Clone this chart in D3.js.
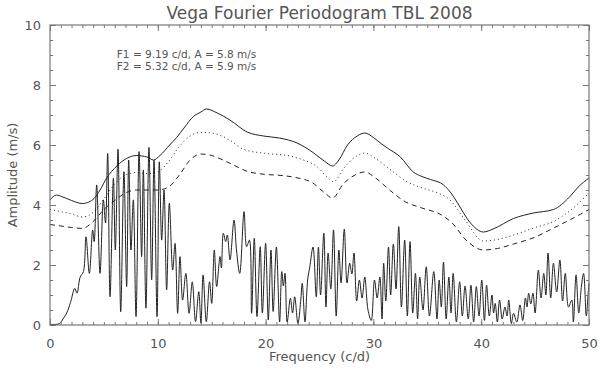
<!DOCTYPE html>
<html>
<head>
<script src="https://cdnjs.cloudflare.com/ajax/libs/d3/7.8.5/d3.min.js"></script>
<style>
  body { margin: 0; background: #fff; }
  text { font-family: "DejaVu Sans", sans-serif; fill: #555; }
</style>
</head>
<body>
<div id="chart"></div>
<script>
var W = 600, H = 370;
var margin = { top: 25, right: 11, bottom: 45, left: 50 };

var xTicks = [0, 10, 20, 30, 40, 50];
var yTicks = [0, 2, 4, 6, 8, 10];
var notes = ["F1 = 9.19 c/d, A = 5.8 m/s", "F2 = 5.32 c/d, A = 5.9 m/s"];

// amplitude spectrum (freq c/d, amp m/s)
var specFreq = [0,0.5,0.9,1.2,1.55,1.9,2.3,2.5,2.8,3.1,3.34,3.65,3.96,4.1,4.33,4.64,4.95,5.15,5.35,5.57,
  5.88,6.06,6.31,6.56,6.86,7.11,7.3,7.51,7.73,7.98,8.26,8.5,8.66,8.9,9.18,9.43,9.65,9.93,10.14,10.36,
  10.58,10.82,11.07,11.38,11.6,11.84,12.06,12.3,12.6,12.9,13.2,13.5,13.8,14.0,14.2,14.5,14.8,15.0,15.24,15.46,
  15.77,15.9,16.08,16.3,16.45,16.7,17.07,17.3,17.6,18.0,18.24,18.5,18.7,18.95,19.2,19.5,19.7,20.0,20.25,20.5,
  20.7,21.0,21.3,21.5,21.65,21.8,22.0,22.3,22.5,22.7,23.0,23.25,23.4,23.65,23.9,24.1,24.4,24.7,24.9,25.1,
  25.4,25.6,25.8,26.05,26.3,26.55,26.8,27.0,27.3,27.55,27.8,28.0,28.2,28.45,28.7,28.95,29.2,29.5,29.8,30.1,
  30.35,30.6,30.8,30.95,31.15,31.4,31.6,31.85,32.1,32.35,32.6,32.9,33.15,33.4,33.65,33.9,34.1,34.3,34.6,34.9,
  35.2,35.6,35.9,36.1,36.3,36.5,36.75,37.0,37.2,37.4,37.7,38.0,38.25,38.5,38.8,39.05,39.3,39.55,39.8,40.05,
  40.3,40.5,40.75,41.0,41.15,41.3,41.5,41.7,41.95,42.2,42.4,42.55,42.8,43.0,43.3,43.6,43.85,44.1,44.25,44.4,
  44.6,44.8,45.0,45.3,45.55,45.8,46.0,46.2,46.45,46.7,47.0,47.3,47.55,47.8,48.1,48.4,48.55,48.8,49.05,49.3,
  49.5,49.75,49.9,50];
var specAmp = [0.02,0.02,0.05,0.2,0.4,0.75,1.22,1.06,1.6,1.78,2.94,1.72,3.17,2.78,4.67,1.72,4.17,3.4,5.72,0.94,
  4.89,2.5,5.86,0.44,5.11,1.28,5.5,2.5,4.17,0.28,5.78,2.28,5.17,0.56,5.92,1.5,5.5,0.28,5.44,2.83,
  4.5,1.17,4.06,1.83,2.72,0.39,2.28,0.83,1.72,0.39,1.44,0.11,1.11,0.06,1.67,0.11,1.44,0.72,2.5,1.28,
  2.28,1.9,3.06,2.78,3.0,2.17,3.5,2.5,1.72,3.78,2.61,2.83,0.39,2.89,0.28,2.61,0.4,2.72,0.17,2.5,
  0.45,2.6,0.1,1.78,1.3,1.72,0.1,0.89,0.4,0.94,0.05,0.78,1.39,0.1,1.5,1.94,2.6,0.94,2.6,1.0,
  3.06,0.6,2.4,1.2,3.17,0.3,2.5,1.4,3.2,1.4,2.06,1.7,2.4,0.8,1.5,0.9,1.6,0.5,0.15,1.5,
  0.9,1.6,0.2,2.06,0.8,2.6,1.0,2.7,1.2,3.28,0.6,2.83,0.3,2.78,0.4,1.72,0.2,1.6,0.5,1.94,
  0.3,1.78,0.2,1.5,0.6,2.1,0.2,1.6,0.4,1.72,0.1,1.44,0.3,1.3,0.2,1.33,0.1,1.28,0.3,1.5,
  0.15,1.33,0.3,1.0,0.4,0.72,0.1,0.83,0.2,0.6,0.3,0.83,0.05,0.39,0.1,0.67,0.15,0.9,0.6,1.06,
  0.7,1.06,0.4,1.83,0.9,1.72,1.0,2.4,0.9,2.06,1.1,2.17,0.8,1.72,0.6,0.83,0.1,1.67,0.4,1.3,
  1.72,0.3,0.94,1.4];

// significance levels (solid, dotted, dashed)
var solidFreq = [0,0.6,1.1,2.0,3.0,3.6,4.1,4.64,5.26,6.2,7.1,8.0,9.0,9.6,10.2,11.1,11.75,12.5,13.3,14.0,
  14.5,15.5,16.7,18.3,19.8,21.3,22.9,24.4,25.5,26.2,26.8,27.6,28.5,29.2,30.0,30.7,31.3,32.5,33.7,34.5,
  35.3,36.5,37.2,37.8,39.0,40.2,41.1,43.0,44.8,46.7,48.2,49.0,50];
var solidAmp = [4.17,4.33,4.28,4.15,4.05,4.1,4.22,4.5,4.9,5.3,5.55,5.65,5.6,5.5,5.65,6.0,6.25,6.6,6.95,7.1,
  7.2,7.07,6.83,6.43,6.3,6.23,6.07,5.75,5.45,5.3,5.5,6.0,6.3,6.4,6.25,6.05,5.9,5.6,5.1,4.95,
  4.85,4.67,4.4,4.07,3.4,3.1,3.2,3.55,3.73,3.85,4.27,4.6,4.9];

var dotFreq = [0,1,2,3,4,5,6,7,8,9,10,11,12,13,14,15,16.5,18,20,22,23.5,24.7,25.8,26.3,27.2,28.3,29.2,30.2,
  31.5,33,34.5,36,37,38.5,40.2,41.5,43,45,46.7,48.2,50];
var dotAmp = [3.85,3.78,3.7,3.6,3.75,4.2,4.7,5.0,5.08,5.05,5.1,5.45,5.95,6.3,6.42,6.4,6.2,5.85,5.72,5.65,5.5,5.3,4.9,4.77,5.2,5.6,5.73,5.55,
  5.2,4.8,4.57,4.4,4.2,3.5,2.8,2.85,3.0,3.25,3.45,3.8,4.4];

var dashFreq = [0,1,2,3,4,5,6,7,8,9,10,11,12,13,14,15,16.4,18.5,20,21.6,23,24.3,25.5,26.2,27.2,28.3,29.2,30.2,
  31.5,33,34.5,36.3,37.3,38.6,40.2,41.5,43,45,46.7,48.2,50];
var dashAmp = [3.35,3.3,3.25,3.22,3.45,3.85,4.15,4.4,4.5,4.5,4.5,4.6,5.0,5.5,5.7,5.65,5.44,5.1,5.02,4.98,4.9,4.75,4.4,4.23,4.7,5.0,5.1,4.9,
  4.5,4.1,3.9,3.67,3.4,2.83,2.5,2.55,2.7,2.93,3.23,3.5,3.85];

var width = W - margin.left - margin.right;
var height = H - margin.top - margin.bottom;

var svg = d3.select("#chart").append("svg")
  .attr("width", W).attr("height", H);

var g = svg.append("g")
  .attr("transform", "translate(" + margin.left + "," + margin.top + ")");

var x = d3.scaleLinear().domain([0, 50]).range([0, width]);
var y = d3.scaleLinear().domain([0, 10]).range([height, 0]);

function zip(a, b) {
  return a.map(function(d, i) { return [d, b[i]]; });
}

var line = d3.line()
  .x(function(d) { return x(d[0]); })
  .y(function(d) { return y(d[1]); });

g.append("path")
  .datum(zip(specFreq, specAmp))
  .attr("fill", "none")
  .attr("stroke", "#222")
  .attr("stroke-width", 1)
  .attr("d", line.curve(d3.curveCatmullRom.alpha(0.5)));

var levels = [
  { f: solidFreq, a: solidAmp, dash: null },
  { f: dotFreq, a: dotAmp, dash: "1,3" },
  { f: dashFreq, a: dashAmp, dash: "5,4" }
];
levels.forEach(function(l) {
  g.append("path")
    .datum(zip(l.f, l.a))
    .attr("fill", "none")
    .attr("stroke", "#222")
    .attr("stroke-width", 1)
    .attr("stroke-dasharray", l.dash)
    .attr("d", line.curve(d3.curveMonotoneX));
});

// axes, ticks pointing inward like the IDL frame
function styleAxis(sel) {
  sel.select(".domain").remove();
  sel.selectAll("line").attr("stroke", "#777");
  sel.selectAll("text").attr("font-size", "13px").attr("fill", "#555")
    .attr("font-family", "DejaVu Sans, sans-serif");
}

var minorX = d3.range(0, 51, 1), minorY = d3.range(0, 10.01, 0.5);

g.append("g").attr("transform", "translate(0," + height + ")")
  .call(d3.axisBottom(x).tickValues(minorX).tickSize(-3).tickFormat(""))
  .call(styleAxis);
g.append("g").attr("transform", "translate(0," + height + ")")
  .call(d3.axisBottom(x).tickValues(xTicks).tickSize(-6).tickPadding(14))
  .call(styleAxis);
g.append("g")
  .call(d3.axisTop(x).tickValues(minorX).tickSize(-3).tickFormat(""))
  .call(styleAxis);
g.append("g")
  .call(d3.axisTop(x).tickValues(xTicks).tickSize(-6).tickFormat(""))
  .call(styleAxis);

g.append("g")
  .call(d3.axisLeft(y).tickValues(minorY).tickSize(-3).tickFormat(""))
  .call(styleAxis);
g.append("g")
  .call(d3.axisLeft(y).tickValues(yTicks).tickSize(-6).tickPadding(9))
  .call(styleAxis);
g.append("g").attr("transform", "translate(" + width + ",0)")
  .call(d3.axisRight(y).tickValues(minorY).tickSize(-3).tickFormat(""))
  .call(styleAxis);
g.append("g").attr("transform", "translate(" + width + ",0)")
  .call(d3.axisRight(y).tickValues(yTicks).tickSize(-6).tickFormat(""))
  .call(styleAxis);

g.append("rect")
  .attr("width", width).attr("height", height)
  .attr("fill", "none").attr("stroke", "#777").attr("stroke-width", 1.2);

// titles
svg.append("text")
  .attr("x", margin.left + width / 2).attr("y", 19)
  .attr("text-anchor", "middle").attr("font-size", "17px")
  .text("Vega Fourier Periodogram TBL 2008");

svg.append("text")
  .attr("x", margin.left + width / 2).attr("y", 361)
  .attr("text-anchor", "middle").attr("font-size", "13px")
  .text("Frequency (c/d)");

svg.append("text")
  .attr("transform", "translate(17," + (margin.top + height / 2) + ") rotate(-90)")
  .attr("text-anchor", "middle").attr("font-size", "13px")
  .text("Amplitude (m/s)");

g.selectAll("text.note")
  .data(notes)
  .enter().append("text")
  .attr("class", "note")
  .attr("x", x(6.2))
  .attr("y", function(d, i) { return 33 + i * 12; })
  .attr("font-size", "10.5px")
  .attr("fill", "#444")
  .text(function(d) { return d; });
</script>
</body>
</html>
